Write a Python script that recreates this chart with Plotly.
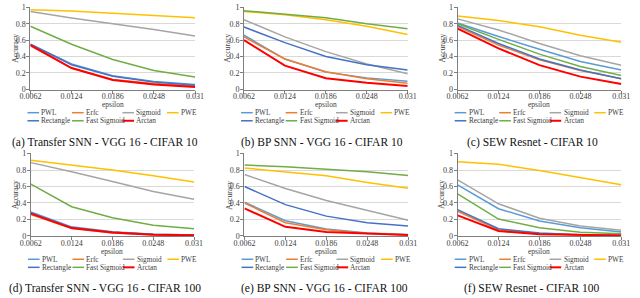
import plotly.graph_objects as go

# ---------------- data ----------------
EPSILON = [0.0062, 0.0124, 0.0186, 0.0248, 0.031]
EPSILON_LABELS = ["0.0062", "0.0124", "0.0186", "0.0248", "0.031"]
SERIES = ["PWL", "Erfc", "Sigmoid", "PWE", "Rectangle", "Fast Sigmoid", "Arctan"]
COLORS = ["#5B9BD5", "#ED7D31", "#A5A5A5", "#FFC000", "#4472C4", "#70AD47", "#FF0000"]
Y_TICKS = [0, 0.2, 0.4, 0.6, 0.8, 1]
Y_TICK_LABELS = ["0", "0.2", "0.4", "0.6", "0.8", "1"]
CAPTIONS = [
    "(a) Transfer SNN - VGG 16 - CIFAR 10",
    "(b) BP SNN - VGG 16 - CIFAR 10",
    "(c) SEW Resnet - CIFAR 10",
    "(d) Transfer SNN - VGG 16 - CIFAR 100",
    "(e) BP SNN - VGG 16 - CIFAR 100",
    "(f) SEW Resnet - CIFAR 100",
]

# series order: PWL, Erfc, Sigmoid, PWE, Rectangle, Fast Sigmoid, Arctan
acc_transfer_c10 = [
    [0.55, 0.31, 0.165, 0.095, 0.06],
    [0.53, 0.26, 0.12, 0.07, 0.04],
    [0.95, 0.87, 0.80, 0.73, 0.65],
    [0.97, 0.955, 0.93, 0.90, 0.875],
    [0.55, 0.30, 0.16, 0.09, 0.05],
    [0.77, 0.55, 0.365, 0.23, 0.15],
    [0.54, 0.26, 0.115, 0.06, 0.03],
]
acc_bp_c10 = [
    [0.66, 0.37, 0.21, 0.14, 0.10],
    [0.64, 0.37, 0.215, 0.13, 0.075],
    [0.85, 0.64, 0.46, 0.31, 0.19],
    [0.95, 0.91, 0.85, 0.77, 0.67],
    [0.76, 0.57, 0.40, 0.30, 0.235],
    [0.96, 0.92, 0.875, 0.80, 0.74],
    [0.60, 0.29, 0.135, 0.08, 0.04],
]
acc_sew_c10 = [
    [0.81, 0.645, 0.49, 0.34, 0.235],
    [0.765, 0.54, 0.36, 0.23, 0.13],
    [0.86, 0.725, 0.56, 0.41, 0.295],
    [0.895, 0.84, 0.765, 0.66, 0.575],
    [0.78, 0.56, 0.37, 0.235, 0.13],
    [0.80, 0.61, 0.43, 0.28, 0.17],
    [0.74, 0.50, 0.295, 0.155, 0.065],
]
acc_transfer_c100 = [
    [0.29, 0.11, 0.05, 0.02, 0.012],
    [0.26, 0.09, 0.035, 0.015, 0.008],
    [0.89, 0.78, 0.66, 0.54, 0.445],
    [0.92, 0.86, 0.80, 0.73, 0.655],
    [0.28, 0.10, 0.045, 0.02, 0.01],
    [0.63, 0.355, 0.22, 0.13, 0.087],
    [0.27, 0.095, 0.04, 0.015, 0.008],
]
acc_bp_c100 = [
    [0.41, 0.185, 0.083, 0.035, 0.016],
    [0.40, 0.16, 0.075, 0.03, 0.01],
    [0.745, 0.575, 0.43, 0.31, 0.19],
    [0.825, 0.78, 0.73, 0.65, 0.58],
    [0.60, 0.38, 0.24, 0.16, 0.12],
    [0.86, 0.84, 0.81, 0.78, 0.735],
    [0.335, 0.11, 0.047, 0.024, 0.01],
]
acc_sew_c100 = [
    [0.62, 0.33, 0.18, 0.10, 0.047],
    [0.30, 0.075, 0.03, 0.01, 0.005],
    [0.68, 0.39, 0.215, 0.12, 0.07],
    [0.90, 0.87, 0.795, 0.705, 0.62],
    [0.32, 0.087, 0.035, 0.015, 0.008],
    [0.51, 0.205, 0.10, 0.045, 0.025],
    [0.25, 0.06, 0.02, 0.008, 0.004],
]
PANEL_DATA = [acc_transfer_c10, acc_bp_c10, acc_sew_c10,
              acc_transfer_c100, acc_bp_c100, acc_sew_c100]

# ---------------- layout (pixels) ----------------
W, H = 640, 298
FONT = "Liberation Serif, Times New Roman, serif"
PANEL_X = [(20, 190), (240.5, 409.5), (461, 630),
           (20.5, 189), (241, 410), (461, 630)]
ROWS = [  # y pixel of value 1, value 0, epsilon, legend rows, caption
    dict(top=3.5, bot=87.7, eps=103.7, leg1=111.7, leg2=120.0, cap=142),
    dict(top=153.7, bot=238.3, eps=254.3, leg1=262.3, leg2=270.6, cap=292.5),
]
CAPTION_CX = [97, 321, 538, 97, 324, 538]
ACC_X = [4.5, 223, 445, 4.5, 226, 445]
LEG_COLS = [-3, 43, 95, 141]
PAD = 0.006
TXT = "#404040"


def px(x):
    return x / W


def py(y):
    return 1 - y / H


fig = go.Figure()
annotations = []
shapes = []

for i, data in enumerate(PANEL_DATA):
    n = i + 1
    xa = "x" if n == 1 else f"x{n}"
    ya = "y" if n == 1 else f"y{n}"
    row = ROWS[i // 3]
    x0, x1 = PANEL_X[i]
    scale = row["bot"] - row["top"]
    top_px = row["top"] - PAD * scale
    bot_px = row["bot"] + PAD * scale

    for s, name in enumerate(SERIES):
        fig.add_trace(go.Scatter(
            x=EPSILON, y=data[s], mode="lines", name=name,
            line=dict(color=COLORS[s], width=2.0 if name == "Arctan" else 1.5),
            xaxis=xa, yaxis=ya, showlegend=False, hoverinfo="skip",
        ))

    axis_common = dict(
        showline=True, linecolor="#7F7F7F", linewidth=1,
        ticks="outside", ticklen=3, tickcolor="#7F7F7F",
        tickfont=dict(family=FONT, size=8, color=TXT),
        zeroline=False,
    )
    fig.layout[f"xaxis{'' if n == 1 else n}"] = dict(
        domain=[px(x0), px(x1)], range=[EPSILON[0], EPSILON[-1]],
        tickvals=EPSILON, ticktext=EPSILON_LABELS, showgrid=False,
        anchor=ya, ticklabelstandoff=-4, **axis_common,
    )
    fig.layout[f"yaxis{'' if n == 1 else n}"] = dict(
        domain=[py(bot_px), py(top_px)], range=[-PAD, 1 + PAD],
        tickvals=Y_TICKS, ticktext=Y_TICK_LABELS, showgrid=True,
        gridcolor="#D9D9D9", gridwidth=1, anchor=xa, ticklabelstandoff=-1,
        **axis_common,
    )

    # axis titles
    annotations.append(dict(
        text="epsilon", x=px((x0 + x1) / 2), y=py(row["eps"]), xref="paper", yref="paper",
        showarrow=False, xanchor="center", yanchor="middle", borderpad=0,
        font=dict(family=FONT, size=7.5, color=TXT),
    ))
    annotations.append(dict(
        text="Accuracy", x=px(ACC_X[i]), y=py((row["top"] + row["bot"]) / 2),
        xref="paper", yref="paper", showarrow=False, textangle=-90,
        xanchor="center", yanchor="middle", borderpad=0,
        font=dict(family=FONT, size=7.5, color=TXT),
    ))
    # caption
    annotations.append(dict(
        text=CAPTIONS[i], x=px(CAPTION_CX[i]), y=py(row["cap"]), xref="paper", yref="paper",
        showarrow=False, xanchor="center", yanchor="middle", borderpad=0,
        font=dict(family=FONT, size=11.5, color="#111111"),
    ))
    # legend (two rows: 4 + 3 entries)
    for s, name in enumerate(SERIES):
        col = s if s < 4 else s - 4
        ly = row["leg1"] if s < 4 else row["leg2"]
        lx = x0 + LEG_COLS[col]
        shapes.append(dict(
            type="line", xref="paper", yref="paper",
            x0=px(lx), x1=px(lx + 12), y0=py(ly), y1=py(ly),
            line=dict(color=COLORS[s], width=2.0 if name == "Arctan" else 1.5),
        ))
        annotations.append(dict(
            text=name, x=px(lx + 13.3), y=py(ly), xref="paper", yref="paper",
            showarrow=False, xanchor="left", yanchor="middle", borderpad=0,
            font=dict(family=FONT, size=7.3, color=TXT),
        ))

fig.update_layout(
    width=W, height=H, margin=dict(l=0, r=0, t=0, b=0),
    paper_bgcolor="white", plot_bgcolor="white",
    showlegend=False, annotations=annotations, shapes=shapes,
)

# remove the browser's default 8px body margin so the figure sits at the page origin
fig.write_html("out.html", config={"displayModeBar": False},
               post_script="document.body.style.margin='0';")
